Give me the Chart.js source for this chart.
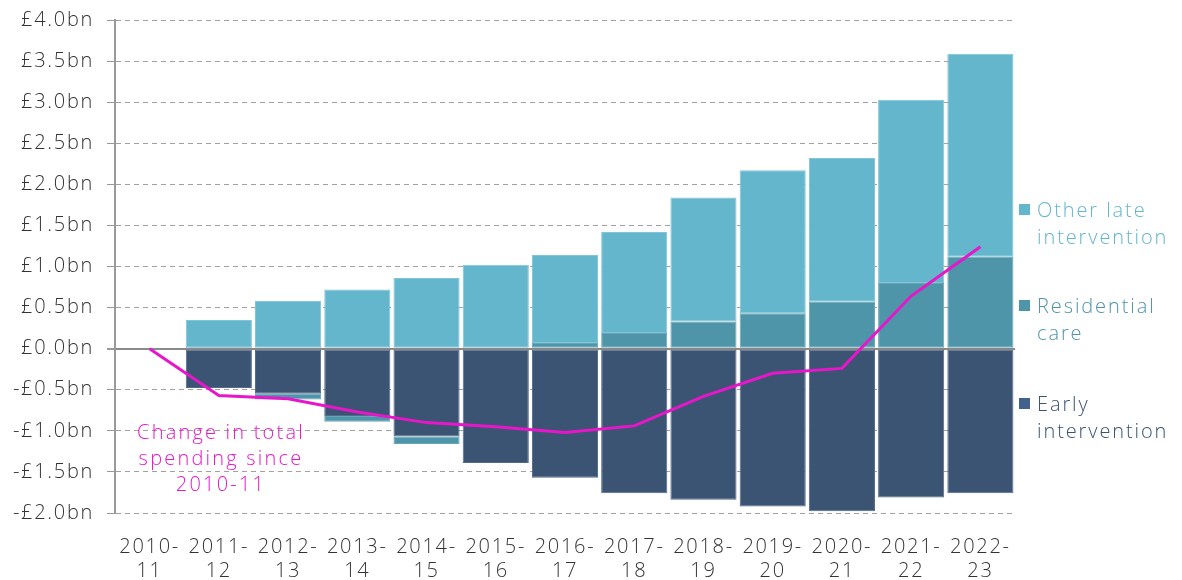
<!DOCTYPE html>
<html>
<head>
<meta charset="utf-8">
<script src="https://cdn.jsdelivr.net/npm/chart.js@4"></script>
<style>
  body { margin: 0; background: #fff; }
  #wrap { position: relative; width: 1182px; height: 580px; font-family: "Open Sans", sans-serif; font-weight: 300; }
  .leg { position: absolute; left: 1019px; font-size: 20px; line-height: 27px; letter-spacing: 1.9px; white-space: nowrap; }
  .leg span.sq { position: absolute; left: 0; top: 8px; width: 11px; height: 11px; }
  .leg div { padding-left: 18px; }
  #note { position: absolute; left: 111px; top: 419px; width: 220px; text-align: center; color: #e41ac8; font-size: 20px; line-height: 26px; letter-spacing: 2.2px; }
</style>
</head>
<body>
<div id="wrap">
  <canvas id="chart" width="1182" height="580"></canvas>
  <div class="leg" style="top:196px;color:#63b6cc"><span class="sq" style="background:#63b6cc"></span><div>Other late<br>intervention</div></div>
  <div class="leg" style="top:292px;color:#4f95aa"><span class="sq" style="background:#4f95aa"></span><div>Residential<br>care</div></div>
  <div class="leg" style="top:390px;color:#3b5474"><span class="sq" style="background:#42628c"></span><div>Early<br>intervention</div></div>
  <div id="note">Change in total<br>spending since<br>2010-11</div>
</div>
<script>
/*********** data (£bn, change since 2010-11) ***********/
const years = [['2010-','11'], ['2011-','12'], ['2012-','13'], ['2013-','14'], ['2014-','15'], ['2015-','16'],
  ['2016-','17'], ['2017-','18'], ['2018-','19'], ['2019-','20'], ['2020-','21'], ['2021-','22'], ['2022-','23']];

const earlyIntervention = [0, -0.48, -0.55, -0.82, -1.07, -1.39, -1.57, -1.76, -1.84, -1.92, -1.98, -1.81, -1.76];
const residentialCare   = [0, 0.02, -0.07, -0.07, -0.09, 0, 0.07, 0.19, 0.33, 0.43, 0.57, 0.80, 1.12];
const otherLate         = [0, 0.33, 0.58, 0.72, 0.86, 1.02, 1.07, 1.23, 1.51, 1.74, 1.75, 2.23, 2.47];
const totalChange       = [0, -0.57, -0.61, -0.77, -0.90, -0.95, -1.02, -0.94, -0.58, -0.30, -0.24, 0.64, 1.24];

const yTicks = [-2, -1.5, -1, -0.5, 0, 0.5, 1, 1.5, 2, 2.5, 3, 3.5, 4];

/*********** chart ***********/
const font = { family: '"Open Sans", sans-serif', size: 20, weight: 300 };

// wider lettering, closer to the original typeface
const spacing = {
  id: 'spacing',
  beforeUpdate: c => { c.ctx.letterSpacing = '1.7px'; },
  beforeDraw: c => { c.ctx.letterSpacing = '1.7px'; }
};

const barStyle = (color, border) => ({
  type: 'bar',
  backgroundColor: color,
  borderColor: border,
  borderWidth: 1,
  borderSkipped: false,
  barPercentage: 0.955,
  categoryPercentage: 1,
  stack: 'spend',
  order: 2
});

const isZero = ctx => ctx.tick && ctx.tick.value === 0;

new Chart(document.getElementById('chart'), {
  data: {
    labels: years,
    datasets: [
      Object.assign(barStyle('#3b5474', '#52698a'), { label: 'Early intervention', data: earlyIntervention }),
      Object.assign(barStyle('#4f95aa', '#66a6b8'), { label: 'Residential care', data: residentialCare }),
      Object.assign(barStyle('#63b6cc', '#80c4d6'), { label: 'Other late intervention', data: otherLate }),
      {
        type: 'line',
        label: 'Change in total spending since 2010-11',
        data: totalChange,
        borderColor: '#e816c9',
        borderWidth: 3,
        pointRadius: 0,
        tension: 0,
        order: 1
      }
    ]
  },
  plugins: [spacing],
  options: {
    responsive: false,
    animation: false,
    layout: { padding: { top: 20, right: 167, left: 0, bottom: 0 } },
    plugins: { legend: { display: false }, tooltip: { enabled: false } },
    scales: {
      x: {
        stacked: true,
        grid: { display: false },
        border: { display: false },
        ticks: { color: '#333', font: font, padding: 14, maxRotation: 0, autoSkip: false },
        afterFit: s => { s.height = 67; }
      },
      y: {
        stacked: true,
        min: -2,
        max: 4,
        z: 1,
        afterBuildTicks: s => { s.ticks = yTicks.map(v => ({ value: v })); },
        afterFit: s => { s.width = 115; s.paddingTop = 0; s.paddingBottom = 0; },
        ticks: {
          color: '#333',
          font: font,
          padding: 13,
          callback: v => (v < 0 ? '-' : '') + '£' + Math.abs(v).toFixed(1) + 'bn'
        },
        grid: {
          color: ctx => isZero(ctx) ? '#8a8a8a' : 'rgba(110,110,110,0.65)',
          lineWidth: ctx => isZero(ctx) ? 2 : 1,
          tickLength: 8,
          tickColor: '#999',
          tickBorderDash: []
        },
        border: {
          display: true, color: '#999', width: 2,
          dash: ctx => isZero(ctx) ? [] : [5, 4]
        }
      }
    }
  }
});
</script>
</body>
</html>
